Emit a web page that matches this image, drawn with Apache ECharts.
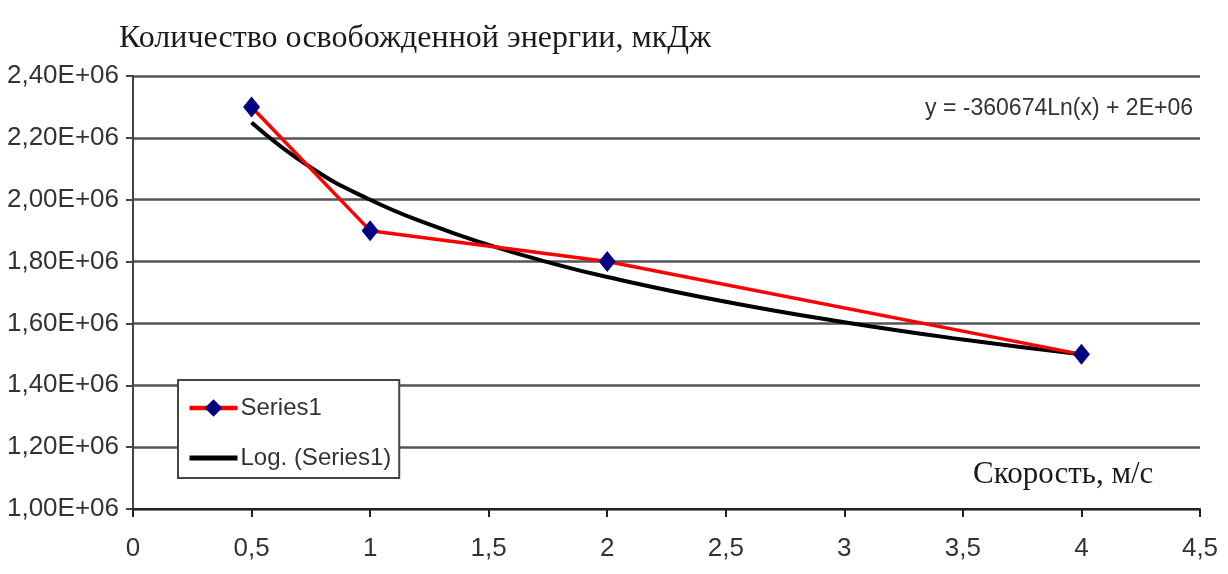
<!DOCTYPE html>
<html>
<head>
<meta charset="utf-8">
<script src="https://cdn.jsdelivr.net/npm/echarts@6/dist/echarts.min.js"></script>
<style>
html,body{margin:0;padding:0;background:#fff;}
#chart{width:1228px;height:574px;}
</style>
</head>
<body>
<div id="chart"></div>
<script>
// Data
const speeds = [0.5, 1, 2, 4];
const energy = [2300000, 1900000, 1800000, 1500000];
// Logarithmic trend line
const trendX = [0.5, 0.75, 1, 1.25, 1.5, 1.75, 2, 2.5, 3, 3.5, 4];
const trendY = [2250000, 2104000, 2000000, 1920000, 1854000, 1798000, 1750000, 1670000, 1604000, 1548000, 1500000];
const yTickLabels = ['1,00E+06','1,20E+06','1,40E+06','1,60E+06','1,80E+06','2,00E+06','2,20E+06','2,40E+06'];
const xTickLabels = ['0','0,5','1','1,5','2','2,5','3','3,5','4','4,5'];
const seriesNames = ['Series1', 'Log. (Series1)'];
const titleText = 'Количество освобожденной энергии, мкДж';
const xAxisTitle = 'Скорость, м/с';
const equationText = 'y = -360674Ln(x) + 2E+06';

const narrow = "'Liberation Sans Narrow', 'Arial Narrow', 'Liberation Sans', sans-serif";
const serif = "'Liberation Serif', 'DejaVu Serif', serif";

const chart = echarts.init(document.getElementById('chart'));
chart.setOption({
  animation: false,
  backgroundColor: '#ffffff',
  title: {
    text: titleText,
    left: 114,
    top: 18,
    textStyle: {fontFamily: serif, fontSize: 32, fontWeight: 'normal', color: '#1a1a1a'}
  },
  grid: {left: 133, right: 28, top: 76, bottom: 65, containLabel: false},
  xAxis: {
    type: 'value', min: 0, max: 4.5, interval: 0.5,
    axisLine: {show: true, lineStyle: {color: '#222', width: 2}},
    axisTick: {show: true, length: 8, lineStyle: {color: '#222', width: 2}},
    splitLine: {show: false},
    axisLabel: {
      margin: 27, fontFamily: narrow, fontSize: 26, color: '#333',
      formatter: function (v) { return xTickLabels[Math.round(v / 0.5)]; }
    }
  },
  yAxis: {
    type: 'value', min: 1000000, max: 2400000, interval: 200000,
    axisLine: {show: true, lineStyle: {color: '#444', width: 2}},
    axisTick: {show: true, length: 7, lineStyle: {color: '#444', width: 2}},
    splitLine: {show: true, lineStyle: {color: '#555', width: 2.5}},
    axisLabel: {
      margin: 14, fontFamily: narrow, fontSize: 26, color: '#333',
      formatter: function (v) { return yTickLabels[Math.round((v - 1000000) / 200000)]; }
    }
  },
  legend: {
    orient: 'vertical',
    left: 178, top: 380,
    backgroundColor: '#ffffff',
    borderColor: '#444', borderWidth: 2,
    padding: [16, 8, 8, 9],
    itemGap: 26,
    itemWidth: 48, itemHeight: 22,
    textStyle: {fontFamily: narrow, fontSize: 24, color: '#333', padding: [0,0,0,-2]},
    data: [
      {name: seriesNames[0], lineStyle: {width: 4.5}},
      {name: seriesNames[1], itemStyle: {opacity: 0}, lineStyle: {width: 5}}
    ]
  },
  series: [
    {
      name: seriesNames[0],
      type: 'line',
      data: speeds.map((x, i) => [x, energy[i]]),
      lineStyle: {color: '#ff0000', width: 3.5},
      itemStyle: {color: '#000080'},
      symbol: 'diamond',
      symbolSize: [17, 21],
      z: 3
    },
    {
      name: seriesNames[1],
      type: 'line',
      data: trendX.map((x, i) => [x, trendY[i]]),
      smooth: true,
      showSymbol: false,
      symbol: 'none',
      lineStyle: {color: '#000000', width: 4},
      itemStyle: {color: '#000000'},
      z: 2
    }
  ],
  graphic: [
    {
      type: 'text', right: 35, top: 97,
      style: {text: equationText, font: "23px " + narrow, fill: '#333'}
    },
    {
      type: 'text', left: 973, top: 459,
      style: {text: xAxisTitle, font: "31px " + serif, fill: '#1a1a1a'}
    }
  ]
});
</script>
</body>
</html>
